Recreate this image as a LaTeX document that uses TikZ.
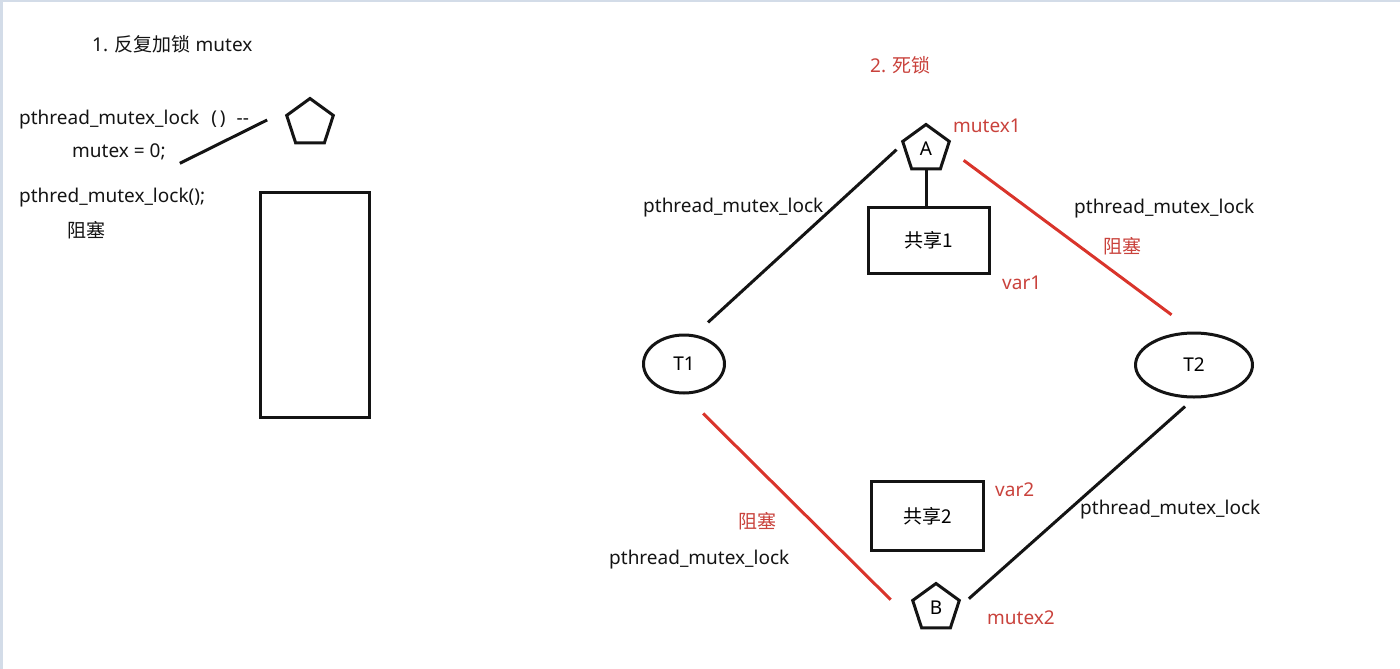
\documentclass[tikz,border=0pt]{standalone}
\usepackage{fontspec}
\setmainfont{Noto Sans}
\newfontfamily\cjk{Noto Sans CJK SC}
\usetikzlibrary{positioning,shapes.geometric}
\definecolor{cInk}{HTML}{141414}
\definecolor{cRed}{HTML}{D9342B}
\definecolor{cRedTxt}{HTML}{C9423C}
\definecolor{cEdge}{HTML}{D3DCE8}
\tikzset{
  lbl/.style={anchor=west,inner sep=0pt,yshift=-2pt,text=cInk,font=\fontsize{19}{23}\selectfont},
  redlbl/.style={lbl,text=cRedTxt},
  lockpent/.style={regular polygon,regular polygon sides=5,draw=cInk,line width=3pt,minimum size=49pt,inner sep=0pt,font=\fontsize{19}{23}\selectfont},
  thr/.style={ellipse,draw=cInk,line width=3pt,inner sep=0pt,font=\fontsize{19}{23}\selectfont},
  shbox/.style={rectangle,draw=cInk,line width=3.4pt,inner sep=0pt,font=\fontsize{19}{23}\selectfont\cjk},
  lk/.style={line width=3pt,cInk},
  blk/.style={line width=3pt,cRed},
}

\begin{document}
\begin{tikzpicture}[x=1pt,y=-1pt]
  \useasboundingbox (0,0) rectangle (1400,669);
  \fill[cEdge] (0,0) rectangle (1400,2);
  \fill[cEdge] (0,0) rectangle (3,669);
  % 1. repeated lock
  \node[lbl] (title1) at (92,42) {1. {\cjk 反复加锁} mutex};
  \node[lbl] (call) at (19,118) {pthread\_mutex\_lock\hspace{12pt}(\hspace{3pt})\hspace{11pt}-{}-};
  \node[lbl] (zero) at (72,150) {mutex = 0;};
  \node[lockpent] (P0) at (310,123) {};
  \node[lbl] (call2) at (19,196) {pthred\_mutex\_lock();};
  \node[lbl] (wait0) at (67,228) {\cjk 阻塞};
  \node[shbox,minimum width=109pt,minimum height=225pt] (R0) at (315,305) {};
  \draw[lk] ([xshift=18pt,yshift=0pt]call.east) -- ([xshift=14pt,yshift=-3pt]zero.south east);
  % 2. deadlock
  \node[redlbl] (title2) at (870,63) {2. {\cjk 死锁}};
  \node[lockpent] (A) at (926,149) {A};
  \node[redlbl] (m1) at (953,124) {mutex1};
  \node[shbox,minimum width=121pt,minimum height=66pt] (S1) at (929,240.5) {共享1};
  \node[redlbl] (v1) at (1002,281) {var1};
  \node[thr,minimum width=81pt,minimum height=58pt] (T1) at (684,364) {T1};
  \node[thr,minimum width=117pt,minimum height=64pt] (T2) at (1194,365) {T2};
  \node[shbox,minimum width=112pt,minimum height=69pt] (S2) at (927.5,516) {共享2};
  \node[redlbl] (v2) at (995,488) {var2};
  \node[lockpent] (B) at (936,608) {B};
  \node[redlbl] (m2) at (987,616) {mutex2};
  \node[lbl] (callTA) at (643,206) {pthread\_mutex\_lock};
  \node[lbl] (callAT) at (1074,207) {pthread\_mutex\_lock};
  \node[redlbl] (waitA) at (1103,244) {\cjk 阻塞};
  \node[lbl] (callTB) at (1080,508) {pthread\_mutex\_lock};
  \node[redlbl] (waitB) at (738,519) {\cjk 阻塞};
  \node[lbl] (callBT) at (609,558) {pthread\_mutex\_lock};
  \draw[lk] (A.south) -- (A.south |- S1.north);
  \draw[lk,shorten <=18pt,shorten >=40pt] (T1.70) -- (A.north);
  \draw[blk,shorten <=19pt,shorten >=28pt] (A.east) -- (T2.north);
  \draw[blk,shorten <=27pt,shorten >=42pt] (T1.south) -- (B.corner 3);
  \draw[lk,shorten <=12pt,shorten >=14pt] (T2.south) -- (B.east);
\end{tikzpicture}
\end{document}
